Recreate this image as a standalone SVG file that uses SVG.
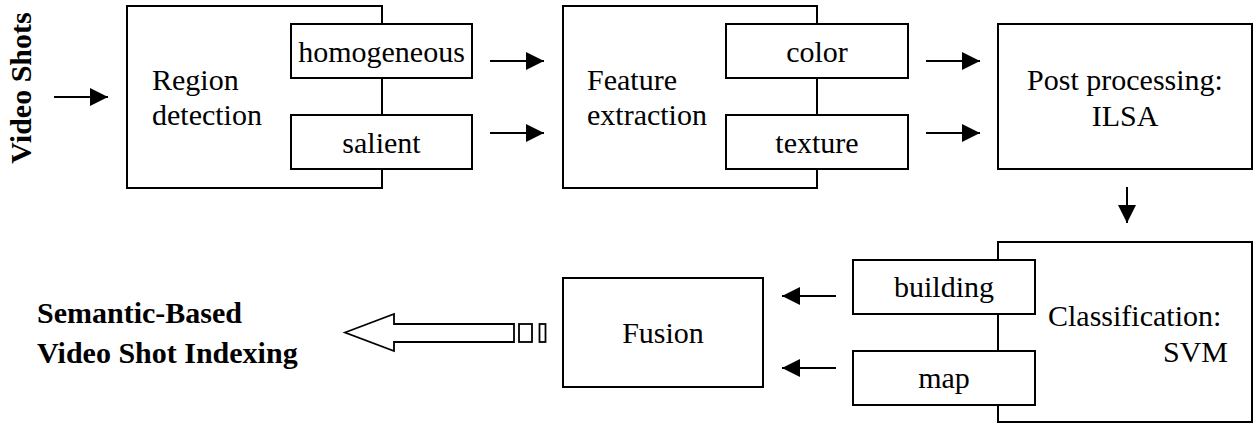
<svg xmlns="http://www.w3.org/2000/svg" width="1255" height="425" viewBox="0 0 1255 425">
<style>
.box{fill:#fff;stroke:#000;stroke-width:2}
.t{font-family:'Liberation Serif','Times New Roman',Times,Tinos,'DejaVu Serif',serif;font-size:30px;fill:#000}
.b{font-family:'Liberation Serif','Times New Roman',Times,Tinos,'DejaVu Serif',serif;font-size:30px;font-weight:bold;fill:#000}
.c{text-anchor:middle}
.ln{stroke:#000;stroke-width:2;fill:none}
</style>
<defs>
<marker id="ah" markerUnits="userSpaceOnUse" markerWidth="18" markerHeight="18" refX="18" refY="9" orient="auto">
<path d="M0,0 L18,9 L0,18 z" fill="#000"/>
</marker>
</defs>
<rect width="1255" height="425" fill="#fff"/>
<g id="video-shots">
<text class="b c" font-family="Liberation Serif, serif" transform="translate(31,88) rotate(-90)">Video Shots</text>
</g>
<g id="region-detection">
<rect class="box" x="127" y="6" width="255" height="182"/>
<text class="t" font-family="Liberation Serif, serif" x="152" y="90">Region</text>
<text class="t" font-family="Liberation Serif, serif" x="152" y="125">detection</text>
</g>
<g id="homogeneous">
<rect class="box" x="291" y="24" width="181" height="54"/>
<text class="t c" font-family="Liberation Serif, serif" x="381.5" y="62">homogeneous</text>
</g>
<g id="salient">
<rect class="box" x="291" y="115" width="181" height="54"/>
<text class="t c" font-family="Liberation Serif, serif" x="381.5" y="153">salient</text>
</g>
<g id="feature-extraction">
<rect class="box" x="563" y="6" width="254" height="182"/>
<text class="t" font-family="Liberation Serif, serif" x="587" y="90">Feature</text>
<text class="t" font-family="Liberation Serif, serif" x="587" y="125">extraction</text>
</g>
<g id="color">
<rect class="box" x="726" y="24" width="182" height="54"/>
<text class="t c" font-family="Liberation Serif, serif" x="817" y="62">color</text>
</g>
<g id="texture">
<rect class="box" x="726" y="115" width="182" height="54"/>
<text class="t c" font-family="Liberation Serif, serif" x="817" y="153">texture</text>
</g>
<g id="post-processing">
<rect class="box" x="998" y="24" width="254" height="145"/>
<text class="t c" font-family="Liberation Serif, serif" x="1125" y="90">Post processing:</text>
<text class="t c" font-family="Liberation Serif, serif" x="1125" y="126">ILSA</text>
</g>
<g id="classification">
<rect class="box" x="998" y="242" width="254" height="180"/>
<text class="t" font-family="Liberation Serif, serif" x="1048" y="326">Classification:</text>
<text class="t" font-family="Liberation Serif, serif" x="1228" y="362" text-anchor="end">SVM</text>
</g>
<g id="building">
<rect class="box" x="853" y="260" width="182" height="54"/>
<text class="t c" font-family="Liberation Serif, serif" x="944" y="297">building</text>
</g>
<g id="map">
<rect class="box" x="853" y="351" width="182" height="54"/>
<text class="t c" font-family="Liberation Serif, serif" x="944" y="388">map</text>
</g>
<g id="fusion">
<rect class="box" x="563" y="278" width="200" height="109"/>
<text class="t c" font-family="Liberation Serif, serif" x="663" y="343">Fusion</text>
</g>
<g id="semantic-indexing">
<text class="b" font-family="Liberation Serif, serif" x="37" y="323">Semantic-Based</text>
<text class="b" font-family="Liberation Serif, serif" x="37" y="363">Video Shot Indexing</text>
</g>
<g id="connectors">
<line class="ln" x1="54" y1="97" x2="108" y2="97" marker-end="url(#ah)"/>
<line class="ln" x1="490" y1="61" x2="544" y2="61" marker-end="url(#ah)"/>
<line class="ln" x1="490" y1="133" x2="544" y2="133" marker-end="url(#ah)"/>
<line class="ln" x1="926" y1="61" x2="980" y2="61" marker-end="url(#ah)"/>
<line class="ln" x1="926" y1="133" x2="980" y2="133" marker-end="url(#ah)"/>
<line class="ln" x1="1127" y1="187" x2="1127" y2="223" marker-end="url(#ah)"/>
<line class="ln" x1="836" y1="296" x2="782" y2="296" marker-end="url(#ah)"/>
<line class="ln" x1="836" y1="368" x2="782" y2="368" marker-end="url(#ah)"/>
<polygon points="345,332.5 394,314 394,324 514,324 514,342 394,342 394,351" fill="#fff" stroke="#000" stroke-width="1.8"/>
<rect x="519" y="324" width="13" height="18" fill="#fff" stroke="#000" stroke-width="1.8"/>
<rect x="539.5" y="324" width="6" height="18" fill="#fff" stroke="#000" stroke-width="1.8"/>
</g>
</svg>
